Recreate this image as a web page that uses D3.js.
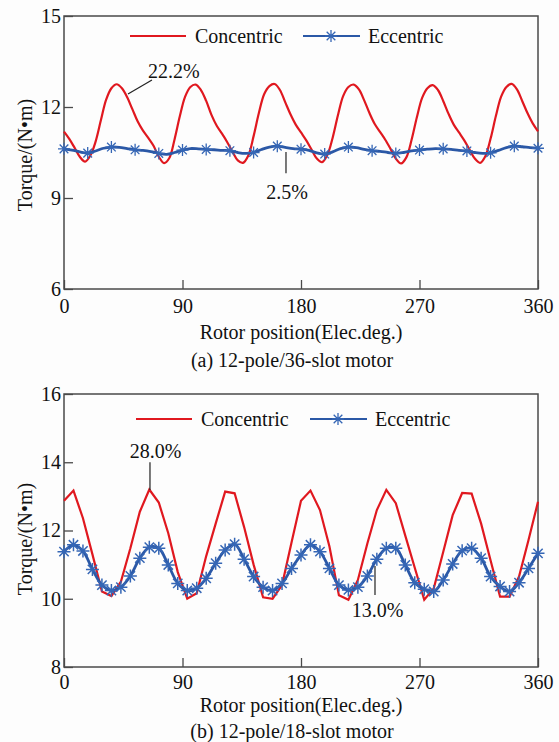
<!DOCTYPE html>
<meta charset="utf-8">
<style>
html, body { margin: 0; padding: 0; background: #fdfdfd; }
svg { display: block; font-family: "Liberation Serif", "Times New Roman", serif; }
</style>
<body>
<script src="https://d3js.org/d3.v7.min.js"></script>
<script>

var width = 559,
    height = 742;

var plotLeft = 64,
    plotW = 474,
    plotH = 273;

var red = "#e0181f",
    blue = "#2b58a6",
    axisColor = "#4a4a4a";

// shared x axis
var xTicks = [0, 90, 180, 270, 360];

// (a) 12-pole/36-slot motor
var topYTicks = [6, 9, 12, 15];
var topConcAngles = d3.range(0, 361, 4);
var topConcentric = [
  11.19, 10.95, 10.66, 10.36, 10.20, 10.40, 10.86, 11.56, 12.24, 12.62, 12.75, 12.62, 12.32, 11.92, 11.52,
  11.22, 10.98, 10.72, 10.36, 10.15, 10.32, 10.94, 11.70, 12.34, 12.66, 12.74, 12.56, 12.20, 11.74, 11.38,
  11.12, 10.84, 10.52, 10.24, 10.16, 10.40, 11.04, 11.80, 12.42, 12.69, 12.76, 12.56, 12.16, 11.76, 11.42,
  11.16, 10.90, 10.60, 10.30, 10.18, 10.42, 10.98, 11.72, 12.36, 12.66, 12.74, 12.58, 12.22, 11.80, 11.44,
  11.18, 10.92, 10.62, 10.30, 10.14, 10.34, 10.92, 11.66, 12.30, 12.62, 12.72, 12.56, 12.20, 11.78, 11.42,
  11.16, 10.90, 10.60, 10.30, 10.16, 10.38, 10.96, 11.70, 12.34, 12.66, 12.76, 12.58, 12.20, 11.80, 11.46,
  11.20
];
var topEccAngles = d3.range(0, 361, 6);
var topEccentric = [
  10.62, 10.58, 10.52, 10.48, 10.55, 10.64, 10.68, 10.67, 10.63, 10.59,
  10.57, 10.53, 10.47, 10.44, 10.50, 10.58, 10.63, 10.62, 10.60, 10.59,
  10.57, 10.56, 10.50, 10.47, 10.50, 10.60, 10.68, 10.71, 10.67, 10.63,
  10.61, 10.57, 10.49, 10.45, 10.52, 10.63, 10.68, 10.66, 10.60, 10.56,
  10.54, 10.50, 10.47, 10.50, 10.55, 10.58, 10.61, 10.63, 10.62, 10.60,
  10.57, 10.55, 10.50, 10.47, 10.49, 10.57, 10.66, 10.71, 10.69, 10.66,
  10.64
];
var topMarkerEvery = 3;

// (b) 12-pole/18-slot motor
var botYTicks = [8, 10, 12, 14, 16];
var botAngles = d3.range(51).map(function(i){ return i * 7.2; });
var botConcentric = [
  12.87, 13.17, 12.36, 11.30, 10.21, 10.08, 10.50, 11.48, 12.55, 13.20,
  12.82, 11.92, 10.78, 10.00, 10.16, 11.25, 12.20, 13.14, 13.09, 12.10,
  11.00, 10.04, 10.00, 10.40, 11.65, 12.87, 13.17, 12.60, 11.53, 10.10,
  9.97, 10.55, 11.62, 12.60, 13.19, 12.80, 11.85, 10.91, 9.97, 10.30,
  11.37, 12.45, 13.10, 13.08, 12.20, 11.12, 10.06, 10.06, 10.65, 11.72,
  12.84
];
var botEccentric = [
  11.38, 11.58, 11.40, 10.86, 10.40, 10.24, 10.34, 10.67, 11.19, 11.51,
  11.48, 10.99, 10.45, 10.24, 10.31, 10.60, 11.04, 11.43, 11.60, 11.16,
  10.65, 10.34, 10.24, 10.45, 10.89, 11.28, 11.58, 11.38, 10.89, 10.40,
  10.26, 10.34, 10.67, 11.16, 11.48, 11.48, 10.99, 10.47, 10.28, 10.21,
  10.55, 11.02, 11.41, 11.48, 11.19, 10.65, 10.36, 10.21, 10.47, 10.89,
  11.33
];

// annotation positions in data units: [label, textX, textY, lineX1, lineY1, lineX2, lineY2]
var topNotes = [
  ["22.2%", 63.8, 12.96, 48.6, 12.43, 66.8, 12.89],
  ["2.5%", 169.4, 8.97, 168.6, 10.52, 168.6, 9.82]
];
var botNotes = [
  ["28.0%", 69.5, 14.12, 65.3, 13.19, 65.3, 14.0],
  ["13.0%", 238.1, 9.47, 236.2, 10.11, 236.2, 10.96]
];

var svg = d3.select("body").append("svg")
  .attr("width", width)
  .attr("height", height);

svg.append("rect").attr("width", width).attr("height", height).attr("fill", "#fdfdfd");

function star(sel, r, w){
  var a = r * 0.72;
  sel.append("path")
    .attr("d", "M" + (-r) + ",0H" + r + "M0," + (-r) + "V" + r +
               "M" + (-a) + "," + (-a) + "L" + a + "," + a +
               "M" + (-a) + "," + a + "L" + a + "," + (-a))
    .attr("fill", "none")
    .attr("stroke", "#3566b5")
    .attr("stroke-width", w);
}

function drawPanel(p){
  var g = svg.append("g").attr("transform", "translate(" + plotLeft + "," + p.top + ")");
  var x = d3.scaleLinear().domain([0, 360]).range([0, plotW]);
  var y = d3.scaleLinear().domain(p.yDomain).range([plotH, 0]);

  var xa = g.append("g")
    .attr("transform", "translate(0," + plotH + ")")
    .call(d3.axisBottom(x).tickValues(xTicks).tickSizeInner(-9).tickSizeOuter(0).tickPadding(p.xPad));
  var ya = g.append("g")
    .call(d3.axisLeft(y).tickValues(p.yTicks).tickSizeInner(-9).tickSizeOuter(0).tickPadding(3));

  [xa, ya].forEach(function(a){
    a.attr("font-family", null).attr("font-size", 20);
    a.selectAll("text").attr("fill", "#111");
    a.selectAll("line").attr("stroke", axisColor).attr("stroke-width", 1.3);
    a.select(".domain").remove();
  });

  g.append("rect")
    .attr("width", plotW).attr("height", plotH)
    .attr("fill", "none").attr("stroke", axisColor).attr("stroke-width", 1.5);

  var concLine = d3.line()
    .x(function(d){ return x(d[0]); })
    .y(function(d){ return y(d[1]); })
    .curve(p.concCurve);
  var eccLine = d3.line()
    .x(function(d){ return x(d[0]); })
    .y(function(d){ return y(d[1]); })
    .curve(d3.curveCatmullRom);

  var conc = p.concAngles.map(function(a, i){ return [a, p.concentric[i]]; });
  var ecc = p.eccAngles.map(function(a, i){ return [a, p.eccentric[i]]; });

  g.append("path").datum(conc)
    .attr("d", concLine)
    .attr("fill", "none").attr("stroke", red).attr("stroke-width", 2.2);

  g.append("path").datum(ecc)
    .attr("d", eccLine)
    .attr("fill", "none").attr("stroke", blue).attr("stroke-width", 2.8);

  g.selectAll("g.marker")
    .data(ecc.filter(function(d, i){ return i % p.markerEvery === 0; }))
    .enter().append("g")
    .attr("class", "marker")
    .attr("transform", function(d){ return "translate(" + x(d[0]) + "," + y(d[1]) + ")"; })
    .each(function(){ star(d3.select(this), p.markerR, p.markerW); });

  p.notes.forEach(function(n){
    g.append("line")
      .attr("x1", x(n[3])).attr("y1", y(n[4]))
      .attr("x2", x(n[5])).attr("y2", y(n[6]))
      .attr("stroke", "#222").attr("stroke-width", 1.2);
    g.append("text")
      .attr("x", x(n[1])).attr("y", y(n[2]))
      .attr("text-anchor", n[0] === "22.2%" ? "start" : "middle")
      .attr("font-size", 20).attr("fill", "#111")
      .text(n[0]);
  });

  // legend
  var lg = g.append("g").attr("transform", "translate(0," + p.legendY + ")");
  lg.append("line").attr("x1", p.legendX[0]).attr("x2", p.legendX[0] + 56)
    .attr("stroke", red).attr("stroke-width", 2.2);
  lg.append("text").attr("x", p.legendX[0] + 65).attr("dy", "0.33em")
    .attr("font-size", 20).attr("fill", "#111").text("Concentric");
  lg.append("line").attr("x1", p.legendX[1]).attr("x2", p.legendX[1] + 57)
    .attr("stroke", blue).attr("stroke-width", 2.2);
  star(lg.append("g").attr("transform", "translate(" + (p.legendX[1] + 28) + ",0)"), 6, 1.3);
  lg.append("text").attr("x", p.legendX[1] + 65).attr("dy", "0.33em")
    .attr("font-size", 20).attr("fill", "#111").text("Eccentric");

  // axis titles
  svg.append("text")
    .attr("x", plotLeft + plotW / 2).attr("y", p.top + plotH + p.titleDy)
    .attr("text-anchor", "middle").attr("font-size", 20).attr("fill", "#111")
    .text("Rotor position(Elec.deg.)");
  svg.append("text")
    .attr("transform", "translate(32," + p.labelY + ") rotate(-90)")
    .attr("text-anchor", "middle").attr("font-size", 20).attr("fill", "#111")
    .text("Torque/(N\u2022m)");
  svg.append("text")
    .attr("x", 292).attr("y", p.top + plotH + p.captionDy)
    .attr("text-anchor", "middle").attr("font-size", 20).attr("fill", "#111")
    .text(p.caption);
}

drawPanel({
  top: 16, yDomain: [6, 15], yTicks: topYTicks,
  concAngles: topConcAngles, concentric: topConcentric, concCurve: d3.curveCatmullRom,
  eccAngles: topEccAngles, eccentric: topEccentric, markerEvery: topMarkerEvery,
  markerR: 6, markerW: 1.3,
  notes: topNotes, legendY: 20, legendX: [66, 239], labelY: 155,
  xPad: 10, titleDy: 50, captionDy: 78,
  caption: "(a) 12-pole/36-slot motor"
});

drawPanel({
  top: 394, yDomain: [8, 16], yTicks: botYTicks,
  concAngles: botAngles, concentric: botConcentric, concCurve: d3.curveLinear,
  eccAngles: botAngles, eccentric: botEccentric, markerEvery: 1,
  markerR: 6.5, markerW: 1.5,
  notes: botNotes, legendY: 25, legendX: [72, 246], labelY: 539,
  xPad: 8, titleDy: 45, captionDy: 71,
  caption: "(b) 12-pole/18-slot motor"
});

</script>
</body>
